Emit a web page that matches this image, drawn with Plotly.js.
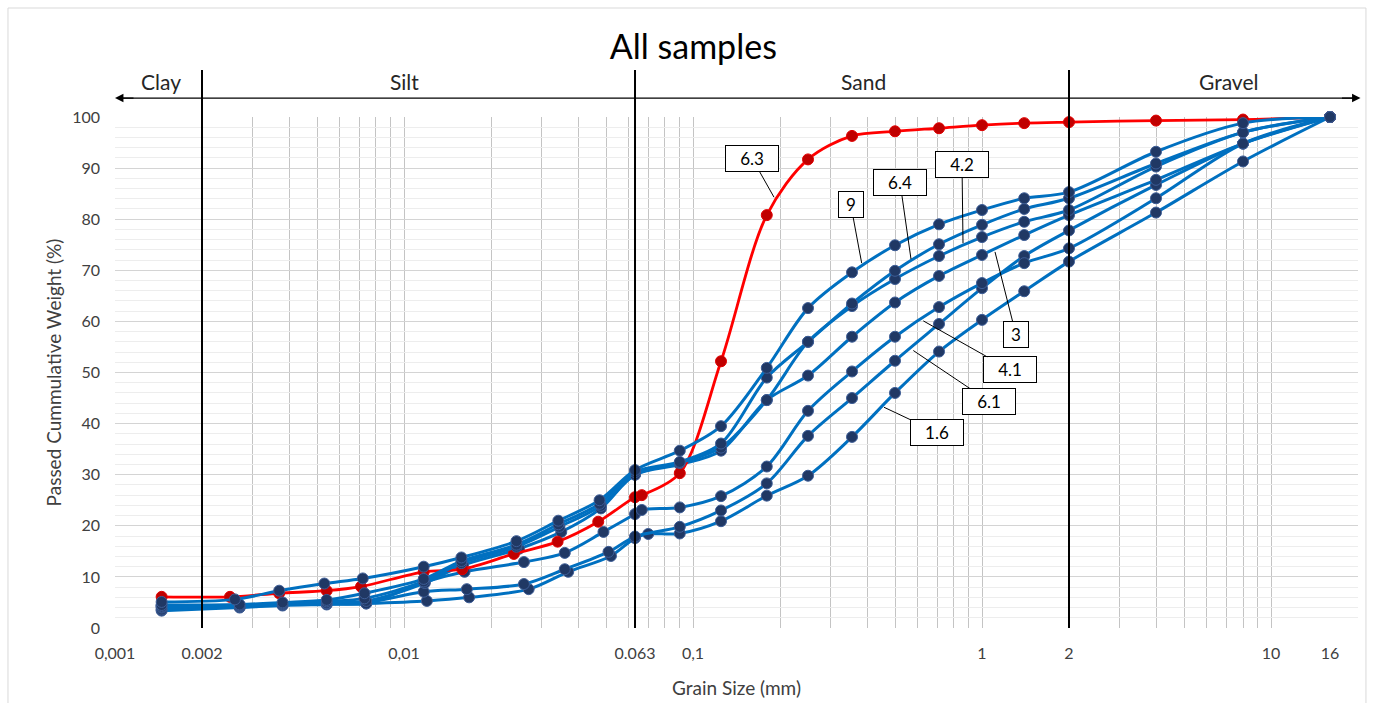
<!DOCTYPE html>
<html><head><meta charset="utf-8">
<script src="https://cdn.plot.ly/plotly-3.0.1.min.js"></script>
<style>html,body{margin:0;padding:0;background:#fff}#chart{width:1373px;height:703px}</style>
</head><body><div id="chart"></div>
<script>
// ---- data (grain size in mm, passing in %) ----
const sieveSizes = [0.09, 0.125, 0.18, 0.25, 0.355, 0.5, 0.71, 1, 1.4, 2, 4, 8, 16];

const hydro9 = [0.00145, 0.0026, 0.0037, 0.0053, 0.0072, 0.0117, 0.0158, 0.0245, 0.0342, 0.0475, 0.063];
const hydroPass9 = [5.1, 5.6, 7.3, 8.7, 9.7, 12.0, 13.8, 17.0, 21.0, 25.0, 30.9];
const sievePass9 = [34.7, 39.5, 50.9, 62.6, 69.6, 74.9, 79.0, 81.8, 84.1, 85.3, 93.2, 98.8, 100];

const hydro64 = [0.00145, 0.0027, 0.0038, 0.0054, 0.0073, 0.0117, 0.0158, 0.0245, 0.0342, 0.0475, 0.063];
const hydroPass64 = [4.5, 4.6, 5.0, 5.5, 6.8, 9.6, 13.1, 16.3, 20.3, 24.3, 30.5];
const sievePass64 = [32.5, 36.1, 49.0, 56.0, 63.5, 69.9, 75.1, 78.9, 82.0, 84.1, 90.9, 97.0, 100];

const hydro42 = [0.00145, 0.0027, 0.0038, 0.0054, 0.0073, 0.0117, 0.0158, 0.0245, 0.0345, 0.048, 0.063];
const hydroPass42 = [4.2, 4.4, 4.8, 5.2, 5.8, 9.1, 12.7, 15.9, 19.8, 23.9, 30.0];
const sievePass42 = [32.3, 35.3, 44.6, 56.0, 63.0, 68.3, 72.8, 76.5, 79.5, 81.8, 90.3, 97.0, 100];

const hydro3 = [0.00145, 0.0027, 0.0038, 0.0054, 0.0074, 0.0118, 0.016, 0.025, 0.035, 0.048, 0.063];
const hydroPass3 = [4.0, 4.2, 4.6, 4.9, 5.3, 8.8, 12.3, 15.5, 18.8, 23.4, 30.0];
const sievePass3 = [32.0, 34.7, 44.6, 49.4, 57.0, 63.7, 68.9, 73.0, 76.9, 80.8, 87.7, 94.8, 100];

const hydro41 = [0.00145, 0.0027, 0.0038, 0.0054, 0.0074, 0.0118, 0.0162, 0.026, 0.036, 0.049, 0.063, 0.0665];
const hydroPass41 = [4.4, 4.1, 4.6, 4.8, 4.8, 9.0, 11.0, 12.9, 14.7, 18.8, 22.3, 23.1];
const sievePass41 = [23.6, 25.8, 31.6, 42.5, 50.2, 57.0, 62.8, 67.5, 71.4, 74.3, 84.1, 94.8, 100];

const hydro61 = [0.00145, 0.0027, 0.0038, 0.0054, 0.0074, 0.0117, 0.0165, 0.026, 0.036, 0.051, 0.063];
const hydroPass61 = [3.6, 4.2, 4.6, 4.8, 5.0, 7.1, 7.6, 8.6, 11.5, 14.9, 17.9];
const sievePass61 = [19.8, 23.0, 28.3, 37.6, 45.0, 52.3, 59.5, 66.5, 72.8, 77.8, 86.7, 94.8, 100];

const hydro16 = [0.00145, 0.0027, 0.0038, 0.0054, 0.0074, 0.012, 0.0168, 0.027, 0.037, 0.052, 0.063, 0.07];
const hydroPass16 = [3.4, 4.0, 4.4, 4.6, 4.8, 5.3, 6.0, 7.6, 11.0, 14.1, 17.6, 18.4];
const sievePass16 = [18.5, 20.9, 25.9, 29.8, 37.4, 46.0, 54.1, 60.3, 65.9, 71.7, 81.3, 91.3, 100];

const hydro63 = [0.00145, 0.0025, 0.0037, 0.0054, 0.0071, 0.0117, 0.0159, 0.024, 0.034, 0.047, 0.063, 0.0665];
const hydroPass63 = [6.1, 6.1, 6.8, 7.3, 8.1, 11.0, 11.5, 14.5, 16.9, 20.8, 25.6, 26.0];
const sievePass63 = [30.3, 52.2, 80.8, 91.7, 96.3, 97.2, 97.8, 98.4, 98.8, 99.0, 99.3, 99.5, 100];

const xTickVals = [0.001, 0.002, 0.01, 0.063, 0.1, 1, 2, 10, 16];
const xTickText = ['0,001', '0.002', '0,01', '0.063', '0,1', '1', '2', '10', '16'];
const boundaries = [0.002, 0.063, 2];
const zoneNames = ['Clay', 'Silt', 'Sand', 'Gravel'];

// ---- styles ----
const FONT = 'Lato, "Open Sans", sans-serif';
const BLUE = '#0070C0', NAVY = '#203864';
const RED = '#FF0000', DARKRED = '#C00000';

function blueTrace(name, hx, hy, sy) {
  return {x: hx.concat(sieveSizes), y: hy.concat(sy), name: name, type: 'scatter', mode: 'lines+markers',
    line: {color: BLUE, width: 3, shape: 'spline', smoothing: 0.9},
    marker: {color: NAVY, size: 11, line: {color: '#3d5d96', width: 1}}, cliponaxis: false};
}
const traces = [
  blueTrace('1.6', hydro16, hydroPass16, sievePass16),
  blueTrace('6.1', hydro61, hydroPass61, sievePass61),
  blueTrace('4.1', hydro41, hydroPass41, sievePass41),
  blueTrace('3', hydro3, hydroPass3, sievePass3),
  {x: hydro63.concat(sieveSizes), y: hydroPass63.concat(sievePass63), name: '6.3', type: 'scatter', mode: 'lines+markers',
    line: {color: RED, width: 2.8, shape: 'spline', smoothing: 0.9},
    marker: {color: DARKRED, size: 11, line: {color: '#e00000', width: 1}}, cliponaxis: false},
  blueTrace('4.2', hydro42, hydroPass42, sievePass42),
  blueTrace('6.4', hydro64, hydroPass64, sievePass64),
  blueTrace('9', hydro9, hydroPass9, sievePass9)
];

// minor vertical grid (log minor positions)
const gridVals = [];
for (let d = -3; d <= 1; d++) for (let m = 1; m <= 9; m++) { const v = m * Math.pow(10, d); if (v <= 20.0001) gridVals.push(v); }

const shapes = [];
boundaries.forEach(b => shapes.push({type: 'line', xref: 'x', yref: 'paper', x0: b, x1: b, y0: 0, y1: 1.092,
  line: {color: '#000', width: 2}}));
shapes.push({type: 'line', xref: 'paper', yref: 'paper', x0: 0.004, x1: 0.996, y0: 1.037, y1: 1.037, line: {color: '#000', width: 1.3}});
shapes.push({type: 'rect', xref: 'paper', yref: 'paper', x0: -0.0861, x1: 1.0064, y0: -0.16, y1: 1.2133, line: {color: '#d9d9d9', width: 1}});

const annotations = [];
// arrow heads of the zone arrow
annotations.push({xref: 'paper', yref: 'paper', x: 0.0, y: 1.037, ax: 20, ay: 0, text: '', showarrow: true, arrowhead: 2, arrowsize: 1.3, arrowwidth: 1.3, arrowcolor: '#000'});
annotations.push({xref: 'paper', yref: 'paper', x: 1.002, y: 1.037, ax: -20, ay: 0, text: '', showarrow: true, arrowhead: 2, arrowsize: 1.3, arrowwidth: 1.3, arrowcolor: '#000'});
const zoneX = [0.037, 0.233, 0.602, 0.896];
zoneNames.forEach((n, i) => annotations.push({xref: 'paper', yref: 'paper', x: zoneX[i], y: 1.07, yanchor: 'middle', xanchor: 'center',
  text: n, showarrow: false, font: {family: FONT, size: 21, color: '#262626'}}));

// series callouts: [label, log10 x of tip, y of tip, ax, ay]
const callouts = [
  ['6.3', -0.7197, 84.3, -22, -39],
  ['9', -0.4163, 71.4, -11, -59],
  ['6.4', -0.2457, 72.2, -11, -77],
  ['4.2', -0.0657, 75.3, -1, -79],
  ['3', 0.045, 73.6, 21, 83],
  ['4.1', -0.2031, 60.1, 87, 49],
  ['6.1', -0.2377, 54.3, 76, 51],
  ['1.6', -0.339, 43.2, 53, 25]
];
callouts.forEach(c => annotations.push({xref: 'x', yref: 'y', x: c[1], y: c[2], ax: c[3], ay: c[4], text: c[0],
  showarrow: true, arrowhead: 0, arrowwidth: 1, arrowcolor: '#000', bgcolor: '#fff', bordercolor: '#000', borderwidth: 1,
  borderpad: 2, font: {family: FONT, size: 17, color: '#000'}, width: c[0].length > 1 ? 48 : 20}));

const layout = {
  width: 1373, height: 703,
  margin: {l: 115, r: 15, t: 117, b: 75},
  paper_bgcolor: '#fff', plot_bgcolor: '#fff',
  showlegend: false,
  font: {family: FONT, size: 15, color: '#404040'},
  title: {text: 'All samples', font: {family: FONT, size: 34, color: '#000'}, x: 0.505, xanchor: 'center', y: 0.933, yanchor: 'middle'},
  xaxis: {type: 'log', range: [-3, Math.log10(20)], tickmode: 'array', tickvals: xTickVals, ticktext: xTickText,
    showgrid: false, zeroline: false, showline: false, ticks: '', ticklabelstandoff: 14,
    tickfont: {family: FONT, size: 16, color: '#404040'},
    minor: {tickmode: 'array', tickvals: gridVals, showgrid: true, gridcolor: '#c4c4c4', gridwidth: 1, ticks: ''},
    title: {text: 'Grain Size (mm)', font: {family: FONT, size: 19, color: '#404040'}, standoff: 20}},
  yaxis: {range: [0, 100], dtick: 10, showgrid: true, gridcolor: '#d4d4d4', gridwidth: 1, zeroline: false, showline: false,
    ticks: '', ticklabelstandoff: 14, tickfont: {family: FONT, size: 16, color: '#404040'},
    minor: {dtick: 2, showgrid: true, gridcolor: '#ededed', gridwidth: 1},
    title: {text: 'Passed Cummulative Weight (%)', font: {family: FONT, size: 19, color: '#404040'}, standoff: 5}},
  shapes: shapes,
  annotations: annotations
};

Plotly.newPlot('chart', traces, layout, {displayModeBar: false, staticPlot: true});
</script>
</body></html>
